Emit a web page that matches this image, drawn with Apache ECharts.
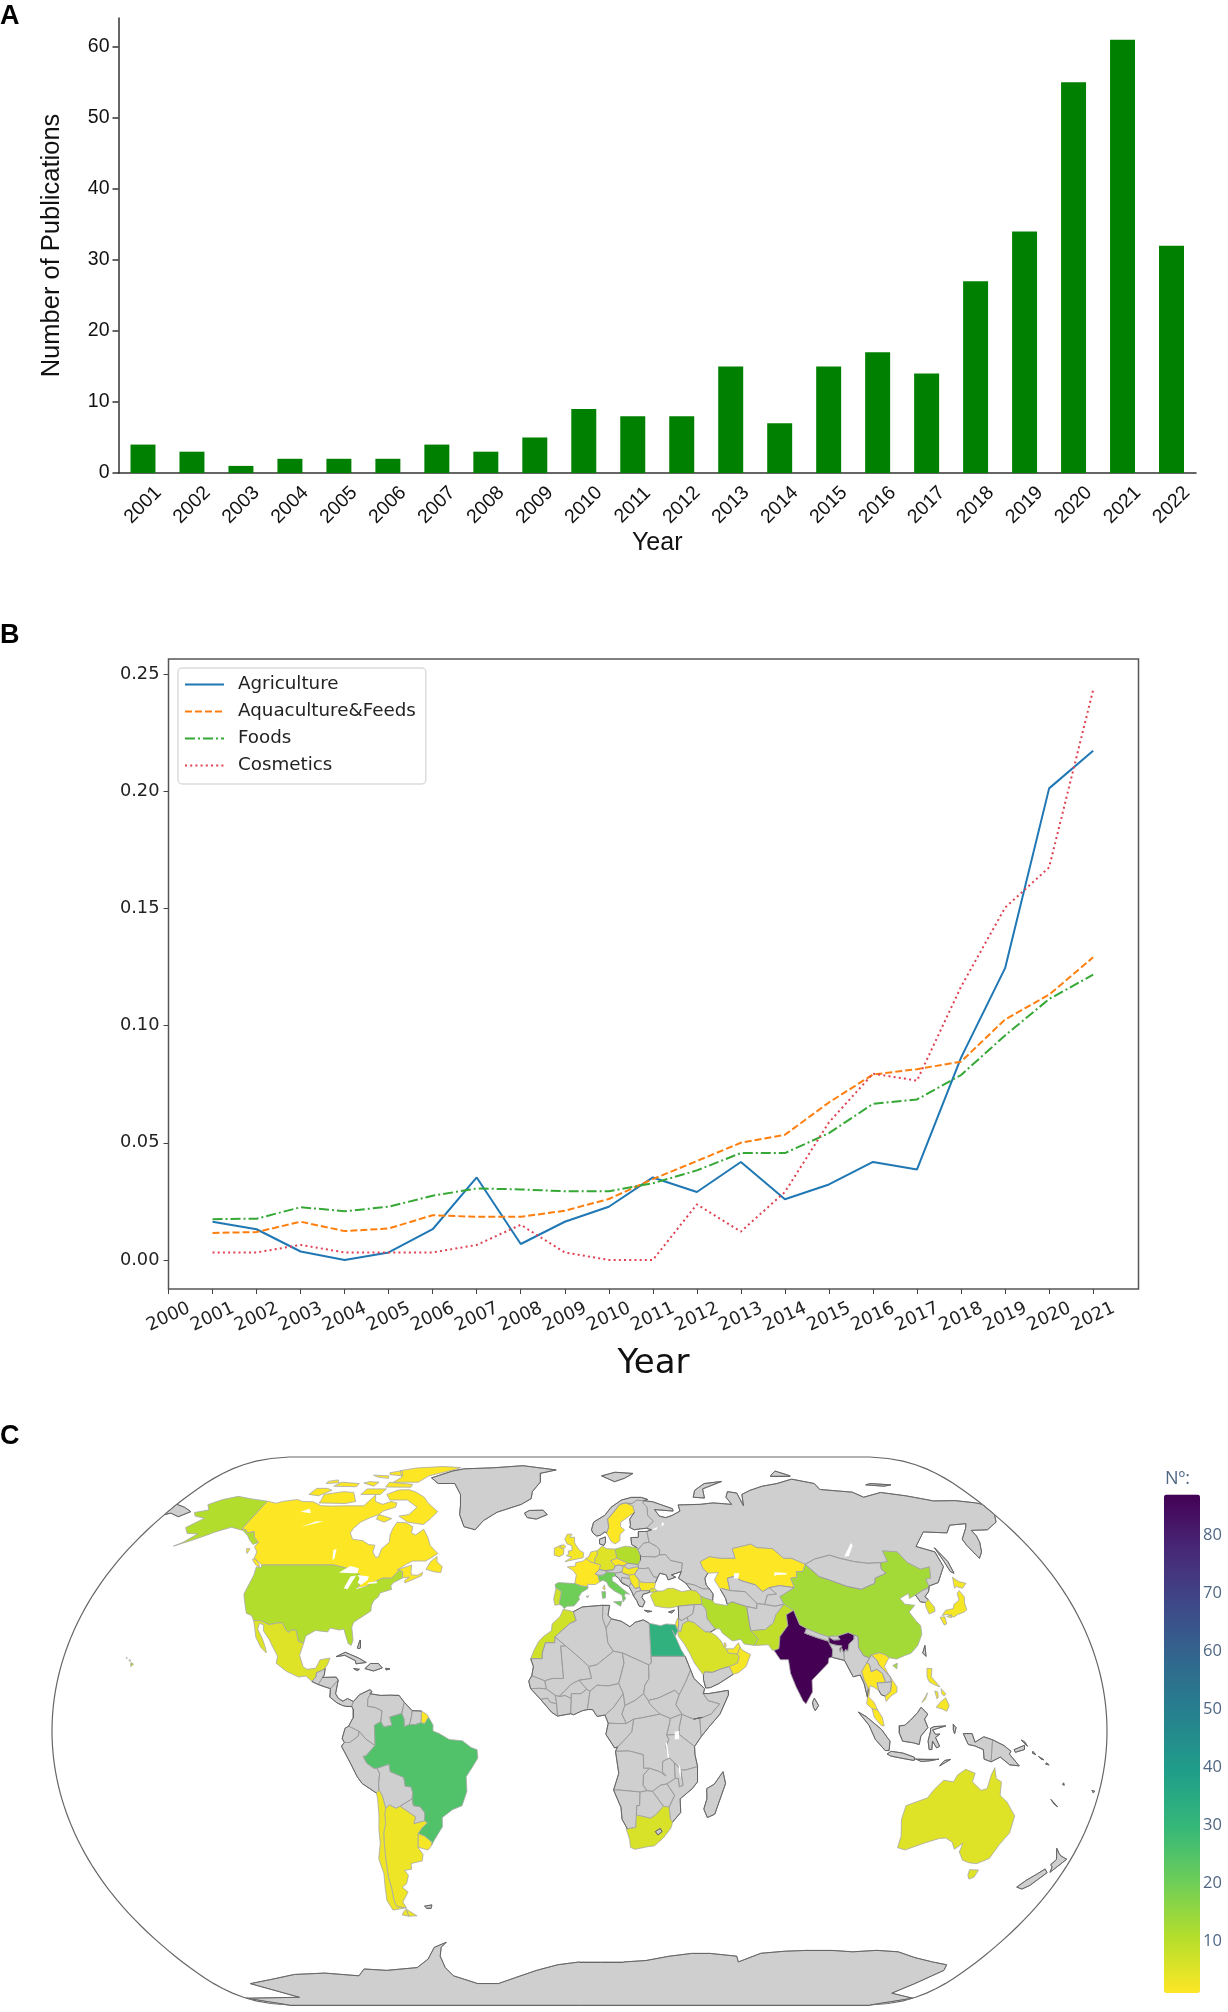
<!DOCTYPE html>
<html>
<head>
<meta charset="utf-8">
<style>
  html, body { margin: 0; padding: 0; background: #fff; }
  #chart { width: 1228px; height: 2012px; }
</style>
<script src="https://cdn.jsdelivr.net/npm/echarts@6/dist/echarts.min.js"></script>
</head>
<body>
<div id="chart"></div>
<script>
// Panel A
const pubYears = ['2001','2002','2003','2004','2005','2006','2007','2008','2009','2010','2011','2012','2013','2014','2015','2016','2017','2018','2019','2020','2021','2022'];
const pubCounts = [4,3,1,2,2,2,4,3,5,9,8,8,15,7,15,17,14,27,34,55,61,32];
const pubTicks = [0,10,20,30,40,50,60];

// Panel B
const trendYears = [2001,2002,2003,2004,2005,2006,2007,2008,2009,2010,2011,2012,2013,2014,2015,2016,2017,2018,2019,2020,2021];
const agriculture = [.0163,.0131,.0036,0,.0032,.0131,.0352,.0068,.0163,.0227,.0352,.029,.0418,.0259,.0322,.0418,.0386,.0863,.1245,.2012,.2173];
const aquaculture = [.0115,.0119,.0163,.0123,.0134,.0191,.0184,.0184,.021,.026,.0345,.0422,.05,.0534,.0672,.0791,.0814,.0846,.1026,.1132,.1291];
const foods = [.0174,.0176,.0225,.0208,.0227,.0274,.0305,.0301,.0293,.0293,.0327,.0382,.0456,.0456,.0541,.0666,.0685,.0789,.0958,.1113,.1217];
const cosmetics = [.0032,.0032,.0064,.0032,.0032,.0032,.0064,.015,.0032,0,0,.0237,.0121,.029,.0587,.0795,.0765,.1166,.1503,.1675,.2432];
const trendXTicks = [2000,2001,2002,2003,2004,2005,2006,2007,2008,2009,2010,2011,2012,2013,2014,2015,2016,2017,2018,2019,2020,2021];
const trendYTicks = [0,.05,.1,.15,.2,.25];

// Panel C
const countryNames = ['Canada','United States','Mexico','Brazil','Argentina','Chile','Uruguay','France','Spain','Portugal','United Kingdom','Ireland','Netherlands','Germany','Poland','Czechia','Hungary','Italy','Sweden','Serbia','Bulgaria','Turkey','Egypt','Saudi Arabia','Oman','UAE','Qatar','Israel','Iran','Pakistan','India','China','Kazakhstan','Thailand','Vietnam','Malaysia','Philippines','South Korea','Japan','Australia','South Africa','Morocco'];
const countryValues = [1,11,5,25,3,3,2,1,20,7,2,2,2,5,11,1,2,20,1,2,2,6,32,6,2,2,2,2,11,9,87,13,1,1,1,1,2,4,2,5,6,7];
const barTicks = [10,20,30,40,50,60,70,80];
const viridisReversed = ['#fde725','#b5de2b','#6ece58','#35b779','#1f9e89','#26828e','#31688e','#3e4989','#482878','#440154'];

// simplified outlines, "lon,lat lon,lat ..." (one string per ring)
const outlines = {
  'Canada': ['-141,69.6 -136,68.9 -134,69.5 -128,70.2 -125,69.5 -120,69.4 -115,68 -110,67.9 -105,68 -96,68 -94,71.8 -92,69.5 -88,68.5 -85,69.5 -82,69 -81.5,67.5 -86,66.2 -87,65 -90,64 -93,62.5 -94.5,60.5 -94.8,59 -92.5,57 -88,56.5 -85,55.3 -82.3,55.1 -82,53 -80,51.3 -79,51.5 -79,54 -77,56 -78,58.5 -78,60.5 -77.5,62.4 -73.5,62.3 -70,61 -69.5,59 -67.5,58.3 -65,60.2 -62,57.5 -60,55 -56,52.5 -58,51.3 -60,50.2 -65,50.2 -67,49.3 -70,47.5 -65,49 -64.5,47 -64,46 -61.5,45.9 -60,46.8 -60,45.8 -63,44.6 -65.7,43.6 -66,44.4 -64.5,45.3 -67,45.1 -67.8,47 -69.2,47.4 -70.9,45.3 -71.5,45 -74.7,45 -76.5,44.2 -79,43.3 -79,42.8 -83,42 -82.5,43 -82.5,45.3 -84.5,46.5 -89.5,48 -95.2,49 -123,49 -123,49.3 -125,50 -127.5,51 -128,53 -130.3,54.6 -130,56 -133,57.5 -135,59.4 -137.5,59 -139,60 -141,60.3',
    '-80,73.7 -85,73.6 -89,72 -86,70 -78,70 -72,67.5 -74,65 -78,64.5 -73,62.5 -66,61.7 -64,63.5 -62,66 -68,69 -71,71 -76,72.8',
    '-117,69 -105,68.8 -101,69.5 -105,72.7 -110,73 -118,72 -117,70', '-125,72 -120,71.5 -116,73.5 -119,74.2 -124,74.2',
    '-90,76.5 -78,76.5 -75,79 -65,81.5 -62,82.6 -72,83.1 -85,82.4 -92,81.2 -88,78.5', '-92,74.7 -80,74.6 -80,75.7 -92,76.5',
    '-95,79.5 -88,79 -91,81.2 -96,80.3', '-117,75 -106,74.8 -106,76 -115,76.5', '-101,72 -92,72 -91,74 -100,74',
    '-122,76 -116,76.3 -118,77.4 -122,76.8', '-104,76.2 -98,75 -97,76.5 -102,76.7', '-100,78.5 -94,78 -95,79 -103,79.3',
    '-87,65 -80.5,63.7 -83,62.5 -87,63.5', '-59,47.7 -55.5,46.9 -53,46.7 -53,48.5 -55.5,50 -56,51.6 -58,50',
    '-128,50.7 -125,48.8 -123.5,48.4 -124.5,49.5 -127,50.9', '-133,54 -131.5,52.5 -131.5,54'],
  'United States': ['-123,49 -95.2,49 -89.5,48 -84.5,46.5 -82.5,45.3 -82.5,43 -83,42 -79,42.8 -79,43.3 -76.5,44.2 -74.7,45 -71.5,45 -70.9,45.3 -69.2,47.4 -67.8,47 -67,45.1 -70,43.7 -70.7,42.7 -70,41.7 -74,40.6 -74.2,39.5 -75.5,38.5 -76,37 -75.7,35.3 -77.8,34 -81,32 -81.3,30.5 -80,26.8 -80.3,25.2 -81.5,25.8 -82.8,28 -84,30 -85.5,29.7 -89,30.3 -89.5,29.2 -91,29.3 -94,29.6 -97,28 -97.2,25.9 -99.2,26.4 -101,29.7 -102.7,29.7 -103.2,29 -104.6,29.7 -106.5,31.8 -108.2,31.8 -111,31.3 -114.8,32.5 -117.1,32.5 -118.5,34 -120.6,34.6 -122.5,37.5 -124.3,40.3 -124,46 -124.7,48.4 -122.7,48.2',
    '-141,69.6 -141,60.3 -139,60 -137.5,59 -135,59.4 -133,57.5 -130,56 -131.5,55.3 -134,56.6 -136.5,58.2 -140,59.8 -146,60.8 -151,59.3 -154,58 -158,56.5 -163,54.8 -160.5,56 -157.5,58.7 -162,58.8 -165,60.7 -161,63.8 -166,64.5 -168,65.7 -163,66.6 -166,68.4 -162,70.2 -156.5,71.3 -150,70.5',
    '-156,20.2 -155,19.7 -155.7,19 -156,19.7', '-157,21 -156.2,20.8 -156.5,20.5', '-158.2,21.5 -157.7,21.4 -158,21.7'],
  'Mexico': ['-117.1,32.5 -114.8,32.5 -111,31.3 -108.2,31.8 -106.5,31.8 -104.6,29.7 -103.2,29 -102.7,29.7 -101,29.7 -99.2,26.4 -97.2,25.9 -97.8,22.3 -96,19 -94.5,18.2 -91.5,18.5 -90.4,21 -87,21.5 -87.6,19.5 -88.2,18.5 -89.1,17.9 -91,17.2 -91,16 -92.2,14.6 -94.5,16.2 -97,15.9 -101.5,17.6 -105.5,20 -105.4,22 -108,25 -109.5,26.8 -112.5,29.5 -113,31.2 -114.7,31.7 -114.7,30 -112,27 -110,24 -109.6,23 -112,24.7 -114.5,27.5 -116,30.5'],
  'Guatemala': ['-92.2,14.6 -91,16 -91,17.2 -89.1,17.9 -88.2,18.5 -88.2,16.5 -88.7,15.8 -89.9,13.7'],
  'Honduras': ['-89.9,13.7 -88.7,15.8 -84,15.9 -83.2,15 -85.6,12.5 -87.5,13'],
  'Nicaragua': ['-85.6,12.5 -83.2,15 -83.7,11 -82.6,9.6 -81,8.8 -79.5,9.6 -77.4,8.7 -77.9,7.3 -80,7.3 -81,7.5 -83,8.3 -85.6,10'],
  'Cuba': ['-85,21.9 -82,23.2 -77,21.5 -74.2,20.2 -77.7,19.8 -78,20.7 -82,22.3'], 'Hispaniola': ['-74.4,18.4 -72.7,19.9 -69.9,19.9 -68.4,18.6 -71.3,17.7'],
  'Jamaica': ['-78.3,18.4 -76.3,18.2 -77,17.8'], 'Puerto Rico': ['-67.2,18.5 -65.7,18.3 -67,18'], 'Bahamas': ['-78,24.5 -77.5,26.8 -77,24.4'],
  'Colombia': ['-77.4,8.7 -75.5,10.7 -72,12.2 -71.3,11.7 -72.5,9.5 -72.5,7.3 -70,7 -67.5,6 -67.8,2.8 -70,1.7 -69.8,-4.2 -70.7,-3.8 -72.9,-2.4 -75.2,-0.1 -78.8,1.4 -77.4,3.8 -77.5,6.5 -77.9,7.3'],
  'Venezuela': ['-71.3,11.7 -71.9,11 -68.2,10.5 -64,10.6 -62,10.6 -60,8.5 -60.7,5.2 -64.8,4.1 -64,1.7 -66.8,1.2 -67.8,2.8 -67.5,6 -70,7 -72.5,7.3 -72.5,9.5'],
  'Guyana': ['-60,8.5 -57.2,6 -57.3,4.5 -58,1.9 -59.8,1.3 -59.9,3.5 -60.7,5.2'], 'Suriname': ['-57.2,6 -54,5.9 -54,2.5 -56,1.9 -58,1.9 -57.3,4.5'],
  'Ecuador': ['-78.8,1.4 -75.2,-0.1 -75.5,-1.5 -78.4,-3.4 -80.3,-3.4 -81,-2.2 -80,0.8'],
  'Peru': ['-81.3,-4.5 -80.3,-3.4 -78.4,-3.4 -75.5,-1.5 -75.2,-0.1 -72.9,-2.4 -70.7,-3.8 -69.8,-4.2 -73,-7.3 -74,-7.5 -72.9,-9.5 -70.6,-11 -69.5,-11 -68.7,-12.5 -69.3,-15.5 -69.4,-17.5 -70.4,-18.3 -75,-15.5 -76.5,-13.5 -78.5,-9.5'],
  'Bolivia': ['-69.5,-11 -65.3,-9.8 -65,-12 -60.5,-13.7 -60.2,-16.3 -58.2,-16.5 -57.8,-18.2 -58.2,-20 -62.7,-22.2 -64.3,-22.8 -66.3,-21.8 -67.8,-22.8 -68.5,-19 -69.4,-17.5 -69.3,-15.5 -68.7,-12.5'],
  'Paraguay': ['-58.2,-20 -58,-22 -55.7,-22.3 -54.3,-24 -54.7,-26.5 -58.6,-27.3 -57.7,-25.3 -62.7,-22.2'],
  'Brazil': ['-51.6,4.1 -50,1.8 -50,0 -48,-0.7 -44.5,-2.5 -40,-2.9 -37,-4.9 -35,-5.5 -34.8,-8 -37,-11 -39,-13.5 -39,-17.8 -41,-22 -44.5,-23.2 -48.3,-25.5 -48.6,-28.2 -52.2,-32.2 -53.4,-33.7 -53.1,-32.7 -55.5,-30.9 -57.6,-30.2 -55.7,-28.3 -53.8,-27.1 -54.7,-26.5 -54.3,-24 -55.7,-22.3 -58,-22 -58.2,-20 -57.8,-18.2 -58.2,-16.5 -60.2,-16.3 -60.5,-13.7 -65,-12 -65.3,-9.8 -69.5,-11 -70.6,-11 -72.9,-9.5 -74,-7.5 -73,-7.3 -69.8,-4.2 -70,1.7 -67.8,2.8 -66.8,1.2 -64,1.7 -64.8,4.1 -60.7,5.2 -59.9,3.5 -59.8,1.3 -58,1.9 -56,1.9 -54,2.5 -52.9,2.2'],
  'Uruguay': ['-57.6,-30.2 -55.5,-30.9 -53.1,-32.7 -53.4,-33.7 -54.9,-35 -58.4,-34.2'],
  'Argentina': ['-66.3,-21.8 -64.3,-22.8 -62.7,-22.2 -57.7,-25.3 -58.6,-27.3 -54.7,-26.5 -53.8,-27.1 -55.7,-28.3 -57.6,-30.2 -58.4,-34.2 -57,-36.3 -57.7,-38.2 -62,-39 -62.3,-40.7 -65,-41 -64,-42.5 -65.5,-45 -67.5,-46 -65.8,-47.5 -69,-50.5 -68.4,-52.3 -71.9,-52 -72.3,-50.5 -71.7,-46.5 -71.7,-43 -71,-38 -70.3,-33 -69.8,-30 -68.5,-27 -68.4,-24.5 -67.8,-22.8', '-68.6,-52.7 -65.2,-54.8 -68.6,-54.9'],
  'Chile': ['-69.4,-17.5 -68.5,-19 -67.8,-22.8 -68.4,-24.5 -68.5,-27 -69.8,-30 -70.3,-33 -71,-38 -71.7,-43 -71.7,-46.5 -72.3,-50.5 -71.9,-52 -68.4,-52.3 -74,-53 -75,-50 -74,-46 -73,-42 -73.5,-37.5 -71.7,-33 -71.3,-29 -70.5,-25 -70.2,-20 -70.4,-18.3', '-68.6,-52.7 -68.6,-54.9 -71,-54.5 -70,-53.5'],
  'Falklands': ['-61,-51.8 -58,-51.4 -58.5,-52.3 -60.5,-52.3'],
  'Greenland': ['-73,78.2 -68,76 -60,76 -55,72 -53,68 -52,65 -48.5,61 -43.5,60 -41,63 -36,65.8 -26,68.5 -22,70.5 -22,73 -19,76.5 -20,80 -12,81.5 -30,83.5 -45,82.5 -60,82 -65,81'],
  'Iceland': ['-24,65.5 -22,66.4 -16,66.5 -14,65 -18.5,63.5 -22.5,64'],
  'United Kingdom': ['-5.7,50 -1,50.8 1.4,51.2 1.7,52.7 0,53.5 -1.5,55.2 -2,56 -2,57.6 -4,57.6 -3,58.6 -5,58.6 -6,57 -5,55.5 -3,54.9 -3,53.4 -4.5,53.3 -4.3,52.3 -5.2,51.8 -3,51.4', '-5.5,54.6 -6.2,55.2 -7.4,55.1 -8,54.4 -6.3,54'],
  'Ireland': ['-6.2,53 -6.3,54 -8,54.4 -7.4,55.1 -10,54.2 -10,52 -8,51.5 -6.4,52.2'],
  'France': ['-1.8,43.4 -1.2,46 -2.5,47.3 -4.7,48.4 -1.5,48.7 -1.5,49.7 1.5,50.2 2.5,51 4.2,50 6,49.5 8.2,49 7.6,47.6 6,46.3 7,45.9 7.6,43.9 6,43.1 3,43.2 3.2,42.4 0.7,42.7', '8.6,42 9.4,43 9.5,41.5', '-54,5.9 -52,4.8 -51.6,4.1 -52.9,2.2 -54,2.5'],
  'Spain': ['-9.2,43.1 -8,43.7 -1.8,43.4 0.7,42.7 3.2,42.4 3.1,41.9 0.8,40.8 -0.3,39.4 0,38.7 -2,36.8 -4.5,36.7 -5.6,36 -6.4,36.9 -7.4,37.2 -7.4,38 -7,39.6 -6.8,41 -8.2,41.9 -8.8,41.9', '2.4,39.6 3.4,39.8 3.1,39.3'],
  'Portugal': ['-8.8,41.9 -8.2,41.9 -6.8,41 -7,39.6 -7.4,38 -7.4,37.2 -9,37 -9.5,38.8'],
  'Netherlands': ['2.5,51 3.5,51.4 4.5,53 7.1,53.4 7,52 6,50.8 6,49.5 4.2,50'],
  'Germany': ['7.1,53.4 9,54.8 11,54 14.2,53.9 14.7,51 12.2,50.3 13.8,48.7 13,47.5 9.6,47.3 7.6,47.6 8.2,49 6,49.5 6,50.8 7,52'],
  'Denmark': ['8.1,55.5 8.2,57 10.6,57.7 10.5,56 9.8,55'],
  'Poland': ['14.2,53.9 18.5,54.8 23,54.3 24,52 23.8,50.4 22.7,49.1 18.8,49.5 14.7,51'],
  'Czechia': ['12.2,50.3 14.7,51 18.8,49.5 17,48.7 15,49 13.8,48.7'],
  'Austria': ['9.6,47.3 13,47.5 13.8,48.7 15,49 17,48.7 16.3,46.9 13.7,46.5 10.5,46.9'],
  'Switzerland': ['6,46.3 7.6,47.6 9.6,47.3 10.5,46.9 9,45.9 7,45.9'],
  'Slovakia': ['17,48.7 18.8,49.5 22.7,49.1 22.8,48 22,48.4 18.8,47.8'],
  'Hungary': ['16.3,46.9 17,48.7 18.8,47.8 22,48.4 22.8,48 21,46.2 18.8,45.9 16.6,46.5'],
  'Italy': ['7,45.9 9,45.9 10.5,46.9 13.7,46.5 13.7,45.7 12.3,45.3 12.4,44.2 13.7,43.5 16,41.9 18.5,40.2 17,40.5 16.6,39.8 17,39 16,38 15.7,40 13,41.2 11,42.5 10.2,43.9 8.8,44.4 7.6,43.9', '12.5,38 15.6,38.2 15,36.7', '8.3,41 9.7,41 9.6,39.2 8.5,39'],
  'Croatia': ['13.7,46.5 16.3,46.9 16.6,46.5 18.8,45.9 19,44.9 16,45.2 15.8,44 18.5,42.5 16,43.5 14.8,45 13.7,45.7'],
  'Bosnia': ['16,45.2 19,44.9 19.4,43.6 18.5,42.5 15.8,44'],
  'Serbia': ['18.8,45.9 21,46.2 22.5,44.5 22.4,42.3 20.7,41.9 19.4,43.6 19,44.9'],
  'Romania': ['22.8,48 24.9,47.9 26.6,48.2 28.2,45.4 29.7,45.3 28.6,43.7 25,43.7 23,43.8 22.5,44.5 21,46.2'],
  'Bulgaria': ['22.5,44.5 23,43.8 25,43.7 28.6,43.7 28,42 26,41.3 22.9,41.3 22.4,42.3'],
  'Albania': ['18.5,42.5 19.4,43.6 20.7,41.9 22.4,42.3 22.9,41.3 20.9,40.9 20,39.7 19.4,41'],
  'Greece': ['20,39.7 20.9,40.9 22.9,41.3 26,41.3 26,40.8 23.5,40.2 23,39.3 24,38 23,36.5 21.7,36.8 21,38.4', '23.6,35.5 26.2,35.2 24.7,35'],
  'Cyprus': ['32.3,35 34.5,35.6 33.5,34.7'],
  'Ukraine': ['22.7,49.1 23.8,50.4 24,51.6 30,51.5 31.5,52.1 34,52.2 35.5,50.4 40,49.6 39,47 35,46 36.5,45.3 33.5,44.5 33,46 30.7,46.5 29.7,45.3 28.2,45.4 26.6,48.2 24.9,47.9 22.8,48'],
  'Belarus': ['23,54.3 23.5,53.9 26,55.8 28.2,56 31,54.7 32,53.5 31.5,52.1 30,51.5 24,51.6 24,52'],
  'Baltics': ['21,55.3 21,57.5 24,57.6 24.3,59.4 28,59.5 28.2,56 26,55.8 23.5,53.9 23,54.3'],
  'Finland': ['21,60.8 22.8,60 25.5,60.3 28,60.5 31.5,62.8 29.5,64.8 30,67.5 28.5,69 29,69.8 26,70 23.5,68.8 20.6,69 23.7,67.9 24,65.8 21.5,63.5 21.5,61.5'],
  'Sweden': ['11.2,59 12.8,56.3 14.3,55.5 16.4,56.5 16.7,58.5 18.8,59.9 17.2,61 17.5,62.5 21.5,64.5 24,65.8 23.7,67.9 20.6,69 18,68.5 14.5,65.5 12,63.5 12.2,60.8'],
  'Norway': ['5,60 5.5,59 7,58 8.5,58.2 10.5,59.3 11.2,59 12.2,60.8 12,63.5 14.5,65.5 18,68.5 20.6,69 23.5,68.8 26,70 29,69.8 31,70.2 28,71 24,71 19,70 14,67.5 11,64.8 6,62.5'],
  'Svalbard': ['11,79 17,76.7 22,78 27,80 18,80.5'], 'Novaya Zemlya': ['52,71 57,70.7 58,74 69,76.8 60,76 54,73.5'],
  'Russia': ['29,69.8 33,69.4 41,67 41,66.2 33,66.7 34.5,64.5 37,64 40,64.7 44,66.2 44,68.3 54,68.5 60,69 68,68.5 67,71 69,73 73,72.5 73,68 75,72 80,73.5 87,75 95,76 104,77.7 113,76 113,73.8 127,72.8 130,71 140,72.7 150,71.5 160,69.7 170,69.8 178,69 180,68.5 180,65 177,62.5 170,60 163,59.8 163,58 162,56 159.5,53 156.7,51 155.7,55 156,57 161.5,60.5 163.5,62 156,61.5 152,59 142.5,59.3 135,54.7 141,53 140.5,48.5 135,43.7 131,42.7 130.7,42.3 131,44.8 133,45 135,48.4 131,47.7 127.5,49.7 126,53 120.5,53.3 120,50 117,49.7 112,49.5 107,50 102,51 98.5,52 92,50.8 87.5,49.2 83,51 80,51 77,54 71,54.3 69,55.4 61,54 61,51 55,51 51,51.5 47,50 47.5,48 49,46.5 47.5,45 47.5,43 48.5,41.8 46,41.8 43,43 40,43.5 37.5,45 39,47 40,49.6 35.5,50.4 34,52.2 31.5,52.1 32,53.5 31,54.7 28.2,56 28,59.5 30,60 28,60.5 31.5,62.8 29.5,64.8 30,67.5 28.5,69',
    '142,54.3 143.5,50 143,46.5 142,47 142,50', '-180,68.5 -175,67.5 -170,66 -173,64.3 -178,65.5 -180,65', '137,75.5 145,75 149,75.5 140,76', '95,79 105,79 100,81'],
  'Caucasus': ['40,43.5 43,43 46,41.8 48.5,41.8 49.5,40.3 48.9,38.4 46.5,39 44.8,39.7 43.5,41.1 41.5,41.5'],
  'Turkey': ['26.2,40 27,38 27.5,36.8 30.5,36.3 33,36.2 36,36.7 42,37.2 44.8,37.2 44.8,39.7 43.5,41.1 41.5,41.5 38,41 35,42 33,42 31,41.2 29,41.2 27.5,40.9', '26,40.8 26.5,41.8 28,42 29,41.2 27.5,40.9'],
  'Syria': ['36,36.7 42,37.2 41,34.5 38.8,33.4 36.5,32.4 35.7,33.3 35.9,35'],
  'Iraq': ['42,37.2 44.8,37.2 46,35.7 46,33 48.5,30 46.5,29.1 44.7,29.2 41,31.9 39,32.4 38.8,33.4 41,34.5'],
  'Israel': ['35.1,33 35.7,33.3 35.5,31.5 35,29.5 34.3,31.3'],
  'Jordan': ['35.7,33.3 36.5,32.4 38.8,33.4 39,32.4 37,31.5 36,29.2 35,29.5 35.5,31.5'],
  'Saudi Arabia': ['35,29.5 36,29.2 37,31.5 39,32.4 41,31.9 44.7,29.2 46.5,29.1 48.5,28 50,26.5 50.8,24.7 51.6,24.2 52,23 55.2,22.7 55.7,22 55,20 52,19 48.8,18.2 46,17.3 43.3,17.4 42.8,16.5 40,20 38.5,23 37,25.5 35,28'],
  'Yemen': ['43.3,17.4 46,17.3 48.8,18.2 52,19 53.1,16.7 48,14 45,12.8 43.4,12.7 42.8,15 42.8,16.5'],
  'Oman': ['52,19 55,20 55.7,22 55.2,22.7 56.4,24.8 57,23.9 59.8,22.5 57.8,19 55,17.2 53.1,16.7'],
  'UAE': ['51.6,24.2 52,23 55.2,22.7 56.4,24.8 56,26 54,24.2'],
  'Qatar': ['51,26 51.6,25.8 51.5,24.7 50.8,24.7'],
  'Iran': ['44.8,39.7 46.5,39 48.9,38.4 49.5,37.5 53.9,36.9 54,37.3 56,38 61,36.6 60.9,31.5 61,29.5 63.2,27.2 61.6,25.2 58,25.6 57,27 54,26.5 50.8,28.8 50,30.1 48.5,30 46,33 46,35.7 44.8,37.2'],
  'Kazakhstan': ['47,50 51,51.5 55,51 61,51 61,54 69,55.4 71,54.3 77,54 80,51 83,51 87.5,49.2 85.5,47 83,47 82.5,45.3 80,45 80.3,42.2 75,42.8 70.9,42.2 68,41 66,43 61,44.3 58.5,45.5 56,45 56,41.3 53,42 52.5,41.7 51,44.5 53,46.7 49,46.5 47.5,48'],
  'Uzbekistan': ['56,45 58.5,45.5 61,44.3 66,43 68,41 70.9,42.2 73,40.3 69.5,40 67.7,37.2 65,37.5 61.5,41 56,41.3'],
  'Turkmenistan': ['52.5,41.7 53,42 56,41.3 61.5,41 65,37.5 64.5,36 61,36.6 56,38 54,37.3 53.8,39'],
  'Kyrgyzstan': ['70.9,42.2 75,42.8 80.3,42.2 74,39.5 74.8,37.3 71.5,36.7 67.7,37.2 69.5,40 73,40.3'],
  'Afghanistan': ['61,36.6 64.5,36 65,37.5 67.7,37.2 71.5,36.7 74.8,37.3 71,34.2 69.5,31.8 66.3,29.9 61,29.5 60.9,31.5'],
  'Pakistan': ['61.6,25.2 66.5,25.4 67.5,23.9 68.2,23.7 70,24.3 71,27.8 74.5,31 74.8,34.2 77.8,35.5 74.8,37.3 71,34.2 69.5,31.8 66.3,29.9 61,29.5 63.2,27.2'],
  'India': ['68.2,23.7 70,21 72.8,21 73,17 74.5,13 76.5,9 77.5,8 78.2,9 80,11.5 80.2,15 82.3,16.7 86.5,20 87,21.5 88.2,21.7 88.8,24 88,25.8 88,26.4 88.2,27.8 88.9,27.3 89.8,26.8 92,26.9 91.5,28 95.5,29 97.4,28.3 97,27 95,25.7 94,23.5 93.3,24 92.5,22.8 92,24.5 91.3,23.2 91.2,24.2 92.3,25 89.9,25.3 88,25.8 88,26.4 84,27.5 80,28.8 81,30.2 78.8,31.3 77.8,35.5 74.8,34.2 74.5,31 71,27.8 70,24.3'],
  'Nepal': ['80,28.8 84,27.5 88,26.4 88.2,27.8 85,28.7 81,30.2'],
  'Bhutan': ['88.9,27.3 89.8,26.8 92,26.9 91.5,28 89.5,28 88.2,27.8'],
  'Bangladesh': ['88.2,21.7 92.3,20.8 92.5,22.8 92,24.5 91.3,23.2 91.2,24.2 92.3,25 89.9,25.3 88,25.8 88.8,24'],
  'Sri Lanka': ['79.8,8.5 80.5,9.7 81.8,7.5 80.6,6 80,7'],
  'China': ['74,39.5 80.3,42.2 80,45 82.5,45.3 83,47 85.5,47 87.5,49.2 91,45.5 95,44.3 100,42.6 105,41.7 111,43.5 111.9,45 117,46.5 116,47.8 117,49.7 120,50 120.5,53.3 126,53 127.5,49.7 131,47.7 135,48.4 133,45 131,44.8 130.7,42.3 128,41.5 124.3,40 121.5,39 122,40.5 118,39 119,37.3 122.5,37 119.5,35 120.8,32.5 122,31 121.5,28.5 119,25.2 116,22.9 113.5,22.2 110.5,21.2 108,21.6 106.7,22.5 105,23 102,22.4 101.2,21.5 99.2,22.2 98,24.5 98.6,27.8 97.4,28.3 95.5,29 91.5,28 89.5,28 88.2,27.8 85,28.7 81,30.2 78.8,31.3 77.8,35.5 74.8,37.3', '108.8,19.3 110.5,20 110,18.3'],
  'Mongolia': ['87.5,49.2 92,50.8 98.5,52 102,51 107,50 112,49.5 117,49.7 116,47.8 117,46.5 111.9,45 111,43.5 105,41.7 100,42.6 95,44.3 91,45.5'],
  'North Korea': ['124.3,40 128,41.5 130.7,42.3 129.7,41 127.5,39.5 128.3,38.6 126.7,37.8 125,38'],
  'South Korea': ['126.7,37.8 128.3,38.6 129.4,36.5 129,35.2 126.5,34.4 126.3,36.5'],
  'Japan': ['131,34 133,35.5 136,36 137,37.3 139.5,38.5 140,40.5 141.3,41.3 142,39.5 141,37.5 140.8,35.7 139.5,35 136.8,34.3 135,33.5 133,34.3', '130,33.5 131.8,33.6 131.5,31.5 130.5,31.2', '132.5,33.7 134.5,34.2 134,33.3', '140,42 141.5,45.3 143,44 145.3,43.5 143,42 141,42.5'],
  'Taiwan': ['120.1,23 121.5,25.2 121,22'],
  'Myanmar': ['92.3,20.8 94.5,16 97,16.5 98,14 98.7,10 99.3,12.5 98.2,15 97.7,17.5 100,20.2 101.2,21.5 99.2,22.2 98,24.5 98.6,27.8 97.4,28.3 97,27 95,25.7 94,23.5 93.3,24 92.5,22.8'],
  'Thailand': ['97.7,17.5 98.2,15 99.3,12.5 98.3,8 100,6.6 102,6.1 100.8,8.5 99.2,10 100,13.4 101,13 102.8,12 102.5,14.2 105.5,14.3 104.8,17 103,18.2 101,17.5 100.8,19.5 100,20.2'],
  'Malaysia': ['100,6.6 102,6.1 103.4,4 104,1.5 103,1.6 100.7,4'],
  'Vietnam': ['102,22.4 105,23 106.7,22.5 108,21.6 105.8,19 106.8,16.8 109.2,13 109,11.5 106.8,10.3 105,8.7 104.8,10.3 106.8,11.7 107.5,14.5 107.3,16 105,18.5 104,19.5 103.7,20.7'],
  'Laos': ['100.8,19.5 101,17.5 103,18.2 104.8,17 105.5,14.3 107.5,14.5 107.3,16 105,18.5 104,19.5 103.7,20.7 102,22.4 101.2,21.5 100,20.2'],
  'Cambodia': ['102.5,14.2 102.8,12 103.5,10.7 104.8,10.3 106.8,11.7 107.5,14.5 105.5,14.3'],
  'Philippines': ['120.5,18.5 122.2,18.4 121.5,16 124,13 122,13.7 120.5,14.5 120,16', '122,7 124,6.5 125.5,5.8 126.5,7.5 125.5,9.8 123.5,8.5', '122,11.8 123,11.5 123,10 122.5,9.5', '124.3,12.5 125.7,11 125,10.3 124.3,11', '117.2,8.4 119.5,11.3 118.5,9.3'],
  'Indonesia': ['95.3,5.6 98,4.2 103,0.5 106,-3 105.8,-5.8 104.5,-5.8 101,-2.5 98.8,1.7', '105.2,-6.8 106.5,-6 110.5,-6.5 114.5,-7.7 114.5,-8.7 110,-8 106.5,-7.4', '109,1.5 111,1.7 113,3.2 115.5,5.4 116.8,7 119,5 117.8,3.5 118.9,1 116.5,-1.5 116,-4 114,-3.5 110.3,-3 109,-0.3', '119.8,0.8 121,1.3 125,1.5 120.5,0.3 121.5,-1 123,-0.9 121.5,-1.9 123,-4.5 122,-5 120.5,-3 120.4,-5.5 119.5,-5.5 119,-3 119.8,0', '127.5,2 128.5,1 128,-0.8 127.5,0.5', '123.5,-10.3 127,-8.4 125,-8.7', '115,-8.2 119,-8.3 123,-8.3 120,-8.8 117,-9', '131,-0.8 134,-0.8 135,-3.3 138,-1.7 141,-2.6 141,-9.1 138.5,-8.3 138,-5.5 135,-4.4 132.8,-4 132,-2.7'],
  'Papua New Guinea': ['141,-2.6 145,-4.3 147.5,-6 147,-6.8 150.8,-10.3 147.5,-10 144,-7.7 141,-9.1', '148.5,-5.5 152,-4.2 152,-5.5 149,-6.3', '150.8,-2.7 153,-4.5 152,-3.2'],
  'Solomon Islands': ['157,-7.5 159,-8.5 158,-8.3', '160,-9.4 161,-10 159.8,-9.8', '155,-6 156,-7 154.8,-6.5'],
  'New Caledonia': ['164,-20.2 167,-22.3 165.5,-21.5'], 'Fiji': ['177.4,-17.5 178.5,-17.8 178,-18.2'], 'Vanuatu': ['167,-15.3 167.4,-16 166.8,-15.8'],
  'Australia': ['114,-22 113.5,-26 115,-31 115,-34.3 118,-35 124,-33 129,-31.6 131.2,-31.5 134,-32.7 135.8,-34.8 138,-33 138,-35.6 140.5,-38 143.5,-38.8 146.4,-39 150,-37.5 151.3,-33.5 153.3,-30 153,-25 149,-21 146,-19 145.5,-15 143.5,-14 142.5,-10.8 141.6,-13 141,-17 139,-17.5 135.5,-15 136,-12.5 132.6,-11.3 130,-13 129,-15 125.5,-14.5 122.5,-17.5 121,-19.7', '144.8,-40.8 148.2,-40.9 148,-43 146.5,-43.6 145.3,-42.5'],
  'New Zealand': ['172.7,-34.5 174.5,-36 175.8,-36.8 178.5,-37.7 177,-39.5 175.3,-41.6 174.8,-40 173.8,-39.3 174.8,-37.8', '172.7,-40.6 174.3,-41.7 172.7,-43.5 171,-45.5 169,-46.6 166.5,-46 168.3,-44 171,-42'],
  'Madagascar': ['49.3,-12 50.4,-15.5 47.5,-24.5 45,-25.5 43.5,-23 44.3,-20 44,-17 46.5,-15.7'],
  'Morocco': ['-5.9,35.8 -2.2,35.1 -1.2,32.5 -3.5,31.6 -8.7,27.7 -8.7,26 -12,26 -13,23 -13,21.3 -17,21.3 -16,23.7 -14.5,26.2 -13,27.7 -10,29.5 -9.8,31.5 -7,33.7'],
  'Algeria': ['-2.2,35.1 1,36.5 8.6,37 8.3,33.2 9.5,30.2 10,26 11.9,23.5 6,19.5 3.2,19 1.2,20.7 -4.8,25 -8.7,27.7 -3.5,31.6 -1.2,32.5'],
  'Tunisia': ['8.6,37 11,37 10.3,34 11.5,33 9.5,30.2 8.3,33.2'],
  'Libya': ['11.5,33 15,32.3 18,30.7 20,32 23,32.7 25,31.7 25,22 25,20 24,19.5 15,23 11.9,23.5 10,26 9.5,30.2'],
  'Egypt': ['25,31.7 29,31 31,31.5 34.3,31.3 35,29.5 34,28 33,29.7 34.3,27 35.6,24 36.9,22 25,22'],
  'Mauritania': ['-17,21.3 -13,21.3 -13,23 -12,26 -8.7,26 -8.7,27.7 -4.8,25 -6.6,25 -5.5,15.5 -9.3,15.5 -12,14.8 -16.5,16.3 -16,19'],
  'Mali': ['-4.8,25 1.2,20.7 3.2,19 4.2,15.5 0,15 -2,14.2 -3.2,13.5 -4.8,12 -7,10.2 -8.3,10.5 -11.4,12.4 -12,14.8 -9.3,15.5 -5.5,15.5 -6.6,25'],
  'Niger': ['3.2,19 6,19.5 11.9,23.5 15,23 15.5,20 13.5,14 10,13.3 6,13.5 3.6,11.7 2.5,12.3 0.3,14.5 0,15 4.2,15.5'],
  'Chad': ['15,23 24,19.5 24,15.5 22.5,13.5 22,11 19,9 15.5,7.5 15,11 13.5,14 15.5,20'],
  'Sudan': ['25,20 25,22 36.9,22 38.5,18 36.5,14.3 34.2,10.7 32.7,12 27,9.7 23.5,9 22,11 22.5,13.5 24,15.5 24,19.5'],
  'South Sudan': ['23.5,9 27,9.7 32.7,12 34.2,10.7 33,7.8 35,5 31,3.7 27.5,5 24,8'],
  'Senegal': ['-16.5,16.3 -12,14.8 -11.4,12.4 -13.7,12.6 -16.8,12.5 -17.5,14.7'],
  'Guinea': ['-16.8,12.5 -13.7,12.6 -11.4,12.4 -8.3,10.5 -7.8,8 -10,8.5 -11,9.7 -13.3,9.3'],
  'Liberia': ['-13.3,9.3 -11,9.7 -10,8.5 -7.8,8 -7.5,4.4 -9.5,5.5'],
  'Ivory Coast': ['-7.5,4.4 -7.8,8 -8.3,10.5 -7,10.2 -5,10.5 -2.8,9.6 -3,5.1'],
  'Burkina Faso': ['-4.8,12 -3.2,13.5 -2,14.2 0,15 0.3,14.5 2.5,12.3 0.5,11 -2.8,11 -2.8,9.6 -5,10.5 -7,10.2'],
  'Ghana': ['-2.8,9.6 -2.8,11 0.5,11 2.5,12.3 3.6,11.7 2.7,6.3 1,6 -2,4.8 -3,5.1'],
  'Nigeria': ['2.7,6.3 3.6,11.7 6,13.5 10,13.3 13.5,14 15,11 11.5,6.8 8.7,4.7 6,4.3 4.5,6.3'],
  'Cameroon': ['8.7,4.7 11.5,6.8 15,11 15.5,7.5 14.5,5 16,2.2 13,2.2 9.8,2.3'],
  'Central African Republic': ['15.5,7.5 19,9 22,11 23.5,9 24,8 27.5,5 22,4 18.5,3.5 16,2.2 14.5,5'],
  'Ethiopia': ['34.2,10.7 36.5,14.3 38.5,18 39.5,15.5 43,12.5 42.5,11 44,9 48,8 45,5 42,4 39,3.5 36,4.5 35,5 33,7.8'],
  'Somalia': ['42.5,11 44,11 51,12 51,10.5 48,5 44,1 41.5,-1.7 41,3.9 42,4 45,5 48,8 44,9'],
  'Kenya': ['35,5 36,4.5 39,3.5 41,3.9 41.5,-1.7 39.3,-4.6 34,-1 34,1'],
  'Uganda': ['31,3.7 35,5 34,1 34,-1 29.7,-1.2 30.5,1.5'],
  'Tanzania': ['34,-1 39.3,-4.6 39.5,-7 40.5,-10.5 36.5,-11.5 34.8,-11.5 32.5,-9.3 30.7,-8 29.5,-4.5 30.5,-2.5 29.7,-1.2'],
  'DR Congo': ['12.3,-6 13,-4.7 16,-2 17.8,-0.2 18.5,3.5 22,4 27.5,5 31,3.7 30.5,1.5 29.7,-1.2 30.5,-2.5 29.5,-4.5 30.7,-8 28.5,-9 28.5,-12 29.8,-13.3 27.5,-12 24,-11 22,-11 21.8,-7 17.5,-6 16.5,-5.9'],
  'Gabon': ['9.8,2.3 13,2.2 16,2.2 18.5,3.5 17.8,-0.2 16,-2 13,-4.7 12,-5 9,-1'],
  'Angola': ['12.3,-6 16.5,-5.9 17.5,-6 21.8,-7 22,-11 24,-11 22,-13 22,-16 23.4,-17.6 21,-18 13.7,-17.4 11.8,-17.4 13.5,-12.5'],
  'Zambia': ['24,-11 27.5,-12 29.8,-13.3 28.5,-12 28.5,-9 30.7,-8 32.5,-9.3 33,-14 30.2,-15.6 28,-16 25.3,-17.8 23.4,-17.6 22,-16 22,-13'],
  'Malawi': ['32.5,-9.3 34.8,-11.5 35.8,-16 34.5,-16.5 34,-14 33,-14'],
  'Mozambique': ['40.5,-10.5 36.5,-11.5 34.8,-11.5 35.8,-16 34.5,-16.5 34,-14 33,-14 30.2,-15.6 33,-19 31.3,-22.4 32,-26 32.9,-26.8 35.5,-24 35,-20 39,-17 40.7,-15'],
  'Zimbabwe': ['25.3,-17.8 28,-16 30.2,-15.6 33,-19 31.3,-22.4 29.3,-22.2'],
  'Namibia': ['11.8,-17.4 13.7,-17.4 21,-18 21,-22 20,-22 20,-24.8 20,-28.4 17,-28.8 15,-26 14.5,-22.5'],
  'Botswana': ['21,-18 23.4,-17.6 25.3,-17.8 29.3,-22.2 26.8,-24.7 25,-25.7 23,-25.3 20,-24.8 20,-22 21,-22'],
  'South Africa': ['16.5,-28.6 17,-28.8 20,-28.4 20,-24.8 23,-25.3 25,-25.7 26.8,-24.7 29.3,-22.2 31.3,-22.4 32,-26 32.9,-26.8 32.5,-28.5 30,-31.5 27,-33.8 25,-34 20,-34.8 18.4,-34.2 18,-32'],
  'Lesotho': ['27,-29.6 28.7,-28.7 29.4,-29.6 28,-30.6'],
  'Antarctica': ['-162,-78 -150,-76.5 -135,-74.5 -120,-74 -105,-75 -100,-72.5 -90,-73 -75,-72 -68,-69 -63,-65 -57,-63.3 -60,-65 -62,-68 -62,-72 -60,-75 -50,-78 -40,-78 -30,-75.5 -20,-73 -10,-71 0,-70 10,-70 20,-70 30,-69.5 40,-68 50,-67 57,-67 70,-68 72,-70 80,-67 90,-66.3 100,-66 110,-66 120,-66.5 130,-66 140,-66.5 150,-68.5 160,-70 168,-71 170,-73 165,-78 162,-82 180,-84.5 180,-90 -180,-90 -180,-84.5 -150,-84']
};
const lakes = ['-92,46.7 -88.5,48.7 -85,48 -84.7,46.5 -87,46.5', '-88,42 -86.5,41.7 -85,45.8 -87,45.5', '-84.5,46 -80,45.5 -80,44.5 -82,43 -83.5,43.7 -83.3,45', '-83.4,41.7 -79,42.8 -79,43 -83,42.2', '-79.7,43.3 -76.2,43.5 -76.4,44.1 -79.5,43.7', '-98,53.5 -96.5,50.5 -96,51 -97,54', '-122,66 -117,65.5 -119,67', '-117,61 -109,62.7 -112,62.8', '59,46.5 61,46.5 60,44.8 58.5,45', '74,45.5 74.5,46.8 79,46.6 79,46.1 74.8,46', '104,51.5 109.7,55.8 109.8,55 106,51.7', '32.5,-0.2 34,0 34,-2.4 32.5,-2.4', '29.4,-3.5 29.8,-3.5 30.8,-8 30.2,-8', '34,-9.5 34.8,-11.5 34.8,-14 34.2,-12', '30,60 33,61 32,60', '34.5,61 36,62 35,62.5'];

function parseRing(text) {
  return text.split(' ').map(p => p.split(',').map(Number));
}

// full globe outline, used as the white map background
function sphereRing() {
  const ring = [];
  for (let lat = -90; lat < 90; lat += 2) ring.push([-180, lat]);
  for (let lon = -180; lon < 180; lon += 4) ring.push([lon, 90]);
  for (let lat = 90; lat > -90; lat -= 2) ring.push([180, lat]);
  for (let lon = 180; lon > -180; lon -= 4) ring.push([lon, -90]);
  return ring;
}

function toFeature(name, rings) {
  return { type: 'Feature', properties: { name: name }, geometry: { type: 'MultiPolygon', coordinates: rings.map(r => [r]) } };
}

const features = [toFeature('Sphere', [sphereRing()])];
Object.keys(outlines).forEach(name => features.push(toFeature(name, outlines[name].map(parseRing))));
features.push(toFeature('Lakes', lakes.map(parseRing)));
echarts.registerMap('world', { type: 'FeatureCollection', features: features });

// edges used by one shape only are coastline, drawn darker on the grey land
function coastEdges() {
  const counts = {};
  const key = (a, b) => a[0] + ',' + a[1] < b[0] + ',' + b[1] ? a + '|' + b : b + '|' + a;
  const eachEdge = (ring, cb) => ring.forEach((p, i) => cb(p, ring[(i + 1) % ring.length]));
  Object.keys(outlines).forEach(name => {
    outlines[name].map(parseRing).forEach(ring => eachEdge(ring, (a, b) => {
      counts[key(a, b)] = (counts[key(a, b)] || 0) + 1;
    }));
  });
  const edges = [];
  Object.keys(outlines).forEach(name => {
    if (countryNames.includes(name)) return;
    outlines[name].map(parseRing).forEach(ring => eachEdge(ring, (a, b) => {
      if (counts[key(a, b)] === 1) edges.push({ coords: [a, b] });
    }));
  });
  return edges;
}

// natural earth projection
function naturalEarth(point) {
  const lam = point[0] * Math.PI / 180;
  const phi = point[1] * Math.PI / 180;
  const p2 = phi * phi;
  const p4 = p2 * p2;
  const x = lam * (0.8707 - 0.131979 * p2 + p4 * (-0.013791 + p4 * (0.003971 * p2 - 0.001529 * p4)));
  const y = phi * (1.007226 + p2 * (0.015085 + p4 * (-0.044475 + 0.028874 * p2 - 0.005916 * p4)));
  return [x * 100, -y * 100];
}

const sansA = '"Liberation Sans", Arial, sans-serif';
const sansB = '"DejaVu Sans", sans-serif';
const sansC = '"Open Sans", sans-serif';

function trendSeries(name, values, color, dash, width) {
  return {
    name: name,
    type: 'line',
    xAxisIndex: 1,
    yAxisIndex: 1,
    symbol: 'none',
    z: 3,
    lineStyle: { color: color, width: width, type: dash },
    itemStyle: { color: color },
    data: trendYears.map((y, i) => [y, values[i]])
  };
}

const chart = echarts.init(document.getElementById('chart'), null, { renderer: 'canvas' });

const option = {
  animation: false,
  backgroundColor: '#fff',
  title: [
    { text: 'A', left: 0, top: 3, padding: 0, textStyle: { fontFamily: sansA, fontWeight: 'bold', fontSize: 27, color: '#000' } },
    { text: 'B', left: 0, top: 622, padding: 0, textStyle: { fontFamily: sansA, fontWeight: 'bold', fontSize: 27, color: '#000' } },
    { text: 'C', left: 0, top: 1423, padding: 0, textStyle: { fontFamily: sansA, fontWeight: 'bold', fontSize: 27, color: '#000' } },
    { text: 'Nº:', left: 1165, top: 1470, padding: 0, textStyle: { fontFamily: sansC, fontWeight: 'normal', fontSize: 18, color: '#506784' } }
  ],
  legend: {
    show: true,
    left: 178,
    top: 668,
    orient: 'vertical',
    data: ['Agriculture', 'Aquaculture&Feeds', 'Foods', 'Cosmetics'],
    itemWidth: 39,
    itemHeight: 14,
    itemGap: 6,
    padding: [6, 10, 8, 6],
    backgroundColor: '#fff',
    borderColor: '#dcdcdc',
    borderWidth: 1.5,
    borderRadius: 4,
    selectedMode: false,
    itemStyle: { opacity: 0 },
    textStyle: { fontFamily: sansB, fontSize: 18.3, color: '#222', lineHeight: 21, padding: [0, 0, 0, 9] }
  },
  grid: [
    { left: 118.5, top: 18, width: 1077.5, height: 455 },
    { left: 168.5, top: 659, width: 970, height: 630, show: true, borderColor: '#555', borderWidth: 1.5, backgroundColor: 'transparent' },
    { left: 1199, top: 1494.5, width: 1, height: 498.5 }
  ],
  xAxis: [
    {
      gridIndex: 0,
      type: 'category',
      data: pubYears,
      name: 'Year',
      nameLocation: 'middle',
      nameGap: 49,
      nameTextStyle: { fontFamily: sansA, fontSize: 25, color: '#111' },
      axisLine: { lineStyle: { color: '#333', width: 1.5 } },
      axisTick: { alignWithLabel: true, length: 6, lineStyle: { color: '#333', width: 1.5 } },
      axisLabel: { interval: 0, rotate: 45, align: 'center', verticalAlign: 'middle', margin: 32, fontFamily: sansA, fontSize: 19.5, color: '#111' }
    },
    {
      gridIndex: 1,
      type: 'value',
      min: 2000,
      max: 2022.03,
      name: 'Year',
      nameLocation: 'middle',
      nameGap: 58,
      nameTextStyle: { fontFamily: sansB, fontSize: 34, color: '#111' },
      splitLine: { show: false },
      axisLine: { show: false, onZero: false },
      axisTick: { show: true, length: 5, lineStyle: { color: '#444', width: 1 }, customValues: trendXTicks },
      axisLabel: { rotate: 25, align: 'center', verticalAlign: 'middle', margin: 28, fontFamily: sansB, fontSize: 18, color: '#222', customValues: trendXTicks, formatter: v => String(v) }
    },
    { gridIndex: 2, type: 'value', show: false, min: 0, max: 1 }
  ],
  yAxis: [
    {
      gridIndex: 0,
      type: 'value',
      min: 0,
      max: 64.05,
      name: 'Number of Publications',
      nameLocation: 'middle',
      nameGap: 54,
      nameTextStyle: { fontFamily: sansA, fontSize: 25.5, color: '#111' },
      splitLine: { show: false },
      axisLine: { show: true, lineStyle: { color: '#333', width: 1.5 } },
      axisTick: { show: true, length: 6, lineStyle: { color: '#333', width: 1.5 }, customValues: pubTicks },
      axisLabel: { margin: 9, fontFamily: sansA, fontSize: 19.5, color: '#111', customValues: pubTicks }
    },
    {
      gridIndex: 1,
      type: 'value',
      min: -0.0124,
      max: 0.2564,
      splitLine: { show: false },
      axisLine: { show: false },
      axisTick: { show: true, length: 5, lineStyle: { color: '#444', width: 1 }, customValues: trendYTicks },
      axisLabel: { margin: 9, fontFamily: sansB, fontSize: 17.8, color: '#222', customValues: trendYTicks, formatter: v => v.toFixed(2) }
    },
    {
      gridIndex: 2,
      type: 'value',
      position: 'right',
      min: 1,
      max: 87,
      splitLine: { show: false },
      axisLine: { show: false },
      axisTick: { show: false, customValues: barTicks },
      axisLabel: { margin: 3, fontFamily: sansC, fontSize: 16.5, color: '#506784', customValues: barTicks }
    }
  ],
  visualMap: {
    type: 'continuous',
    seriesIndex: 5,
    min: 1,
    max: 87,
    left: 1164,
    top: 1494.5,
    itemWidth: 36,
    itemHeight: 498.5,
    padding: 0,
    calculable: false,
    text: null,
    showLabel: false,
    inRange: { color: viridisReversed }
  },
  geo: {
    map: 'world',
    projection: { project: naturalEarth, unproject: p => p },
    left: 52,
    top: 1457,
    width: 1055,
    height: 548,
    silent: true,
    roam: false,
    label: { show: false },
    emphasis: { disabled: true },
    itemStyle: { areaColor: '#cfcfcf', borderColor: '#9a9a9a', borderWidth: 1 },
    regions: [
      { name: 'Sphere', itemStyle: { areaColor: '#fff', borderColor: '#666', borderWidth: 1.2 } },
      { name: 'Lakes', itemStyle: { areaColor: '#fff', borderColor: '#fff', borderWidth: 0 } }
    ].concat(countryNames.map(n => ({ name: n, itemStyle: { borderColor: '#a8a8a8', borderWidth: 0.8 } })))
  },
  series: [
    { type: 'bar', xAxisIndex: 0, yAxisIndex: 0, data: pubCounts, barWidth: '51%', itemStyle: { color: '#008000' } },
    trendSeries('Agriculture', agriculture, '#1f77b4', 'solid', 2),
    trendSeries('Aquaculture&Feeds', aquaculture, '#ff7f0e', [7, 3], 2),
    trendSeries('Foods', foods, '#35a835', [10, 3, 2, 3], 2),
    trendSeries('Cosmetics', cosmetics, '#e04050', [2, 3.2], 2),
    { type: 'map', geoIndex: 0, data: countryNames.map((n, i) => ({ name: n, value: countryValues[i] })) },
    { type: 'lines', coordinateSystem: 'geo', geoIndex: 0, silent: true, z: 5, lineStyle: { color: '#666', width: 1, opacity: 1, curveness: 0 }, data: coastEdges() }
  ]
};

chart.setOption(option);
window.addEventListener('resize', () => chart.resize());
</script>
</body>
</html>
